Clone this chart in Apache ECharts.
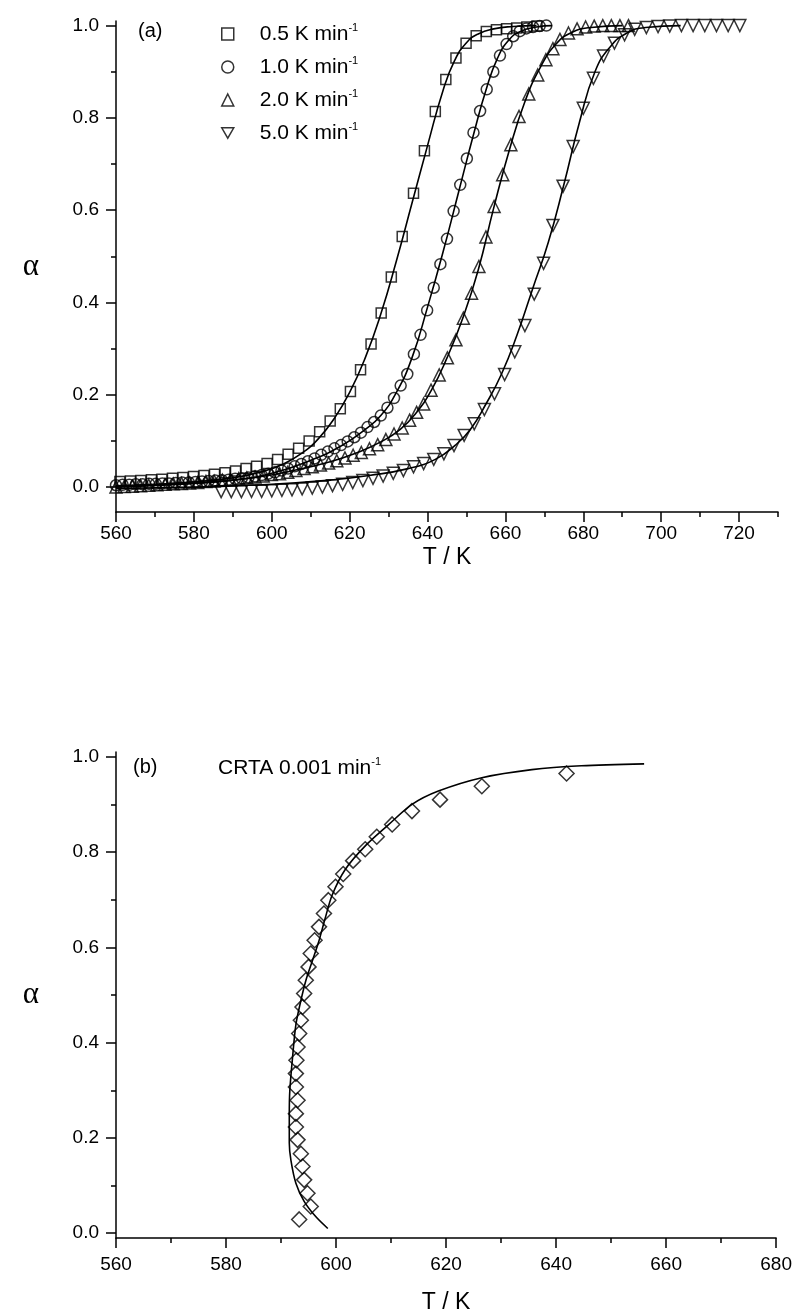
<!DOCTYPE html>
<html><head><meta charset="utf-8">
<script src="https://cdn.jsdelivr.net/npm/echarts@6/dist/echarts.min.js"></script>
<style>html,body{margin:0;padding:0;background:#fff}#c{width:795px;height:1315px}</style>
</head><body><div id="c"></div>
<script>
// ---------- tick labels ----------
const xTicksA = [560,580,600,620,640,660,680,700,720];
const xMinorA = [570,590,610,630,650,670,690,710,730];
const xTicksB = [560,580,600,620,640,660,680];
const xMinorB = [570,590,610,630,650,670];
const yTicks = [0,0.2,0.4,0.6,0.8,1.0];
const yMinor = [0.1,0.3,0.5,0.7,0.9];

// ---------- series names ----------
const seriesNames = ['0.5 K min', '1.0 K min', '2.0 K min', '5.0 K min'];

// ---------- panel (a) data points [T/K, alpha] ----------
const pts05 = [[561.0,0.012],[563.7,0.013],[566.4,0.014],[569.1,0.016],[571.8,0.017],[574.5,0.019],[577.2,0.021],[579.9,0.023],[582.6,0.025],[585.3,0.028],[588.0,0.031],[590.7,0.035],[593.4,0.040],[596.1,0.045],[598.8,0.051],[601.5,0.060],[604.2,0.071],[606.9,0.084],[609.6,0.100],[612.3,0.120],[615.0,0.143],[617.6,0.170],[620.2,0.207],[622.8,0.254],[625.5,0.310],[628.1,0.377],[630.7,0.455],[633.5,0.543],[636.4,0.637],[639.2,0.729],[642.0,0.814],[644.7,0.883],[647.3,0.930],[649.9,0.962],[652.5,0.978],[655.1,0.987],[657.7,0.991],[660.3,0.993],[662.9,0.995],[665.5,0.997],[668.1,0.999]];
const pts10 = [[560.0,0.004],[561.7,0.005],[563.4,0.005],[565.1,0.006],[566.8,0.006],[568.5,0.007],[570.2,0.007],[571.9,0.008],[573.6,0.008],[575.3,0.009],[577.0,0.010],[578.7,0.010],[580.4,0.011],[582.1,0.012],[583.8,0.013],[585.5,0.014],[587.2,0.015],[588.9,0.016],[590.6,0.018],[592.3,0.019],[594.0,0.021],[595.7,0.023],[597.4,0.026],[599.1,0.029],[600.8,0.032],[602.5,0.036],[604.2,0.040],[605.9,0.045],[607.6,0.050],[609.3,0.056],[611.0,0.062],[612.7,0.070],[614.4,0.077],[616.1,0.084],[617.8,0.091],[619.5,0.099],[621.2,0.108],[622.9,0.118],[624.6,0.130],[626.3,0.141],[628.0,0.155],[629.7,0.172],[631.4,0.193],[633.1,0.220],[634.8,0.245],[636.5,0.288],[638.2,0.330],[639.9,0.383],[641.6,0.432],[643.3,0.483],[645.0,0.538],[646.7,0.598],[648.4,0.655],[650.1,0.712],[651.8,0.768],[653.5,0.815],[655.2,0.862],[656.9,0.900],[658.6,0.935],[660.3,0.960],[662.0,0.977],[663.7,0.988],[665.4,0.994],[667.1,0.997],[668.8,0.999],[670.5,1.000]];
const pts20 = [[560.0,0.000],[562.1,0.001],[564.2,0.002],[566.3,0.003],[568.4,0.004],[570.5,0.005],[572.6,0.006],[574.7,0.007],[576.8,0.008],[578.9,0.009],[581.0,0.010],[583.1,0.012],[585.2,0.013],[587.3,0.015],[589.4,0.016],[591.5,0.018],[593.6,0.020],[595.7,0.022],[597.8,0.024],[599.9,0.027],[602.0,0.029],[604.1,0.032],[606.2,0.036],[608.3,0.040],[610.4,0.044],[612.5,0.048],[614.6,0.052],[616.7,0.057],[618.8,0.063],[620.9,0.069],[623.0,0.075],[625.1,0.083],[627.2,0.092],[629.3,0.103],[631.4,0.115],[633.5,0.128],[635.4,0.145],[637.2,0.162],[639.0,0.180],[640.9,0.210],[643.0,0.243],[645.1,0.280],[647.3,0.319],[649.2,0.366],[651.3,0.420],[653.2,0.478],[655.0,0.542],[657.1,0.608],[659.3,0.677],[661.4,0.742],[663.5,0.803],[666.0,0.852],[668.3,0.893],[670.4,0.926],[672.2,0.950],[674.0,0.970],[676.2,0.984],[678.4,0.993],[680.6,0.997],[682.8,0.999],[685.0,1.000],[687.2,1.000],[689.4,1.000],[691.6,1.000]];
const pts50 = [[587.0,-0.010],[589.6,-0.010],[592.2,-0.010],[594.8,-0.009],[597.4,-0.009],[600.0,-0.008],[602.6,-0.007],[605.2,-0.006],[607.8,-0.004],[610.4,-0.002],[613.0,0.000],[615.6,0.003],[618.2,0.006],[620.8,0.010],[623.4,0.014],[626.0,0.019],[628.6,0.024],[631.2,0.030],[633.8,0.036],[636.4,0.044],[639.0,0.051],[641.6,0.060],[644.2,0.072],[646.8,0.090],[649.4,0.112],[652.0,0.137],[654.6,0.168],[657.2,0.202],[659.8,0.244],[662.4,0.293],[665.0,0.350],[667.4,0.418],[669.8,0.485],[672.2,0.567],[674.8,0.652],[677.4,0.738],[680.0,0.821],[682.6,0.886],[685.2,0.934],[688.0,0.962],[690.6,0.980],[693.2,0.992],[696.2,0.996],[699.2,0.998],[702.2,0.999],[705.2,1.000],[708.2,1.000],[711.2,1.000],[714.2,1.000],[717.2,1.000],[720.2,1.000]];

// ---------- panel (a) fitted curves ----------
const fit05 = [[560,0.003],[570,0.006],[580,0.011],[590,0.020],[597,0.032],[603,0.050],[608,0.075],[612,0.105],[616,0.148],[620,0.205],[624,0.280],[628,0.375],[632,0.490],[636,0.615],[640,0.740],[644,0.860],[647,0.925],[650,0.963],[653,0.982],[657,0.993],[662,0.998],[668,1.000]];
const fit10 = [[560,0.002],[575,0.006],[590,0.015],[600,0.030],[610,0.058],[618,0.090],[624,0.125],[628,0.155],[632,0.205],[636,0.280],[640,0.390],[644,0.510],[648,0.640],[652,0.770],[655,0.860],[658,0.930],[661,0.970],[664,0.988],[668,0.997],[672,1.000]];
const fit20 = [[560,0.000],[580,0.008],[595,0.020],[605,0.035],[615,0.055],[622,0.075],[628,0.098],[633,0.125],[637,0.160],[641,0.210],[645,0.280],[649,0.365],[653,0.470],[657,0.605],[661,0.730],[665,0.835],[669,0.910],[673,0.960],[677,0.985],[682,0.996],[690,1.000]];
const fit50 = [[560,-0.003],[580,0.000],[600,0.006],[615,0.015],[625,0.025],[635,0.040],[642,0.060],[647,0.090],[651,0.125],[655,0.180],[659,0.245],[663,0.330],[667,0.430],[671,0.530],[675,0.655],[679,0.790],[683,0.900],[687,0.955],[691,0.983],[696,0.996],[705,1.000]];

// ---------- panel (b) CRTA ----------
const ptsCRTA = [[593.3,0.029],[595.4,0.056],[594.8,0.084],[594.2,0.112],[593.9,0.140],[593.6,0.167],[593.0,0.196],[592.7,0.223],[592.7,0.251],[593.0,0.279],[592.7,0.307],[592.7,0.335],[592.8,0.363],[593.0,0.391],[593.3,0.419],[593.6,0.447],[593.9,0.475],[594.2,0.503],[594.5,0.531],[595.0,0.559],[595.4,0.587],[596.1,0.615],[596.9,0.643],[597.8,0.671],[598.6,0.699],[599.9,0.727],[601.3,0.754],[603.1,0.782],[605.3,0.806],[607.4,0.832],[610.2,0.858],[613.8,0.886],[618.9,0.910],[626.5,0.938],[641.9,0.965]];
const fitCRTA = [[598.5,0.010],[596.3,0.035],[594.2,0.067],[592.7,0.105],[591.8,0.153],[591.5,0.190],[591.5,0.250],[591.6,0.300],[592.1,0.370],[592.7,0.438],[593.6,0.488],[594.5,0.530],[595.7,0.572],[596.8,0.610],[598.0,0.660],[599.3,0.710],[601.7,0.764],[605.4,0.814],[609.6,0.858],[613.8,0.900],[618.6,0.928],[626.5,0.956],[635.6,0.973],[644.6,0.981],[656.0,0.985]];

const FONT = 'Liberation Sans, Arial, sans-serif';
const BLK = '#000';
const DOWN_TRI = 'path://M0,0L20,0L10,17.3Z';

function xMajor(g, min, max, ticks, margin, nameGap) {
  return {type:'value', gridIndex:g, min, max, position:'bottom',
    name:'T / K', nameLocation:'middle', nameGap,
    nameTextStyle:{fontFamily:FONT, fontSize:23, color:BLK},
    axisLine:{show:true, onZero:false, lineStyle:{color:BLK, width:1.5}},
    axisTick:{show:true, customValues:ticks, length:10, lineStyle:{color:BLK, width:1.5}},
    axisLabel:{show:true, customValues:ticks, margin, fontFamily:FONT, fontSize:19, color:BLK, formatter:v=>String(Math.round(v))},
    splitLine:{show:false}};
}
function xMinor(g, min, max, ticks) {
  return {type:'value', gridIndex:g, min, max, position:'bottom',
    axisLine:{show:false, onZero:false},
    axisTick:{show:true, customValues:ticks, length:5, lineStyle:{color:BLK, width:1.5}},
    axisLabel:{show:false}, splitLine:{show:false}};
}
function yMajor(g, min, max) {
  return {type:'value', gridIndex:g, min, max, position:'left',
    name:'α', nameLocation:'middle', nameRotate:0, nameGap:77,
    nameTextStyle:{fontFamily:'Liberation Serif, serif', fontSize:31, color:BLK},
    axisLine:{show:true, onZero:false, lineStyle:{color:BLK, width:1.5}},
    axisTick:{show:true, customValues:yTicks, length:10, lineStyle:{color:BLK, width:1.5}},
    axisLabel:{show:true, customValues:yTicks, margin:17, fontFamily:FONT, fontSize:19, color:BLK, formatter:v=>v.toFixed(1)},
    splitLine:{show:false}};
}
function yMinorAx(g, min, max) {
  return {type:'value', gridIndex:g, min, max, position:'left',
    axisLine:{show:false, onZero:false},
    axisTick:{show:true, customValues:yMinor, length:5, lineStyle:{color:BLK, width:1.5}},
    axisLabel:{show:false}, splitLine:{show:false}};
}

const markStyle = {color:'rgba(0,0,0,0)', borderColor:BLK, borderWidth:1.5};
function sc(name, data, symbol, size, xi, yi) {
  return {type:'scatter', name, data, symbol, symbolSize:size,
    xAxisIndex:xi, yAxisIndex:yi, itemStyle:markStyle, z:3, silent:true};
}
function ln(data, xi, yi, smooth) {
  return {type:'line', data, xAxisIndex:xi, yAxisIndex:yi, showSymbol:false, symbol:'none',
    smooth, lineStyle:{color:BLK, width:1.6}, z:2, silent:true};
}

const chart = echarts.init(document.getElementById('c'), null, {renderer:'canvas'});
chart.setOption({
  animation:false,
  backgroundColor:'#fff',
  grid:[
    {left:116, right:17, top:21, height:491},
    {left:116, right:17, top:752, height:489.5}
  ],
  xAxis:[
    xMajor(0, 560, 730, xTicksA, 12, 34),
    xMinor(0, 560, 730, xMinorA),
    xMajor(1, 560, 680, xTicksB, 17, 53),
    xMinor(1, 560, 680, xMinorB)
  ],
  yAxis:[
    yMajor(0, -0.054, 1.01),
    yMinorAx(0, -0.054, 1.01),
    yMajor(1, -0.01, 1.01),
    yMinorAx(1, -0.01, 1.01)
  ],
  legend:{
    data:[
      {name:seriesNames[0], icon:'rect'},
      {name:seriesNames[1], icon:'circle'},
      {name:seriesNames[2], icon:'triangle'},
      {name:seriesNames[3], icon:DOWN_TRI}
    ],
    orient:'vertical', left:216, top:17, itemWidth:12, itemHeight:12, itemGap:10.5,
    selectedMode:false,
    itemStyle:{color:'rgba(0,0,0,0)', borderColor:BLK, borderWidth:1.5},
    formatter: n => '{a|' + n + '}{s|-1}',
    textStyle:{color:BLK, fontFamily:FONT, fontSize:21,
      rich:{a:{fontFamily:FONT, fontSize:21, lineHeight:24, color:BLK, padding:[0,0,0,21]},
            s:{fontFamily:FONT, fontSize:11, lineHeight:12, color:BLK, verticalAlign:'top'}}}
  },
  graphic:[
    {type:'text', left:138, top:21, style:{text:'(a)', fontFamily:FONT, fontSize:20, fill:BLK}},
    {type:'text', left:133, top:757, style:{text:'(b)', fontFamily:FONT, fontSize:20, fill:BLK}},
    {type:'text', left:218, top:756, style:{text:'{a|CRTA 0.001 min}{s|-1}', fill:BLK,
      rich:{a:{fontFamily:FONT, fontSize:21, lineHeight:24, fill:BLK},
            s:{fontFamily:FONT, fontSize:11, lineHeight:12, fill:BLK, verticalAlign:'top'}}}}
  ],
  series:[
    ln(fit05,0,0,true), ln(fit10,0,0,true), ln(fit20,0,0,true), ln(fit50,0,0,true),
    sc(seriesNames[0], pts05, 'rect', 10, 0, 0),
    sc(seriesNames[1], pts10, 'circle', 11, 0, 0),
    sc(seriesNames[2], pts20, 'triangle', 12, 0, 0),
    sc(seriesNames[3], pts50, DOWN_TRI, 12, 0, 0),
    ln(fitCRTA,2,2,0.3),
    sc('CRTA', ptsCRTA, 'diamond', 15, 2, 2)
  ]
});
</script></body></html>
